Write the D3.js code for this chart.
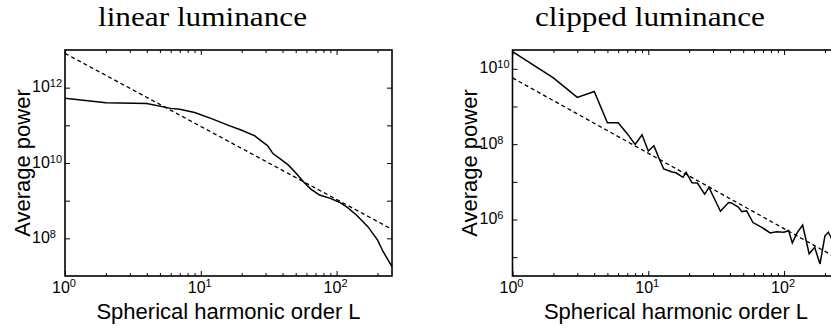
<!DOCTYPE html>
<html><head><meta charset="utf-8">
<script src="https://cdn.jsdelivr.net/npm/d3@7"></script>
<style>body{margin:0;background:#fff}svg{display:block}</style>
</head><body><svg id="c" width="831" height="328"></svg>
<script>
// ---- data ----
const titles = ["linear luminance", "clipped luminance"];
const xLabel = "Spherical harmonic order L";
const yLabel = "Average power";

const orderL_linear = [1, 2, 4, 6, 7, 9, 12, 16, 20, 25, 28, 31, 34, 40, 44, 50, 57, 65, 75, 90, 105, 120, 140, 170, 200, 220, 256];
const power_linear  = [5.25e11, 3.98e11, 3.80e11, 2.82e11, 2.69e11, 2.19e11, 1.51e11, 1.0e11, 7.4e10, 5.25e10, 3.8e10, 2.9e10, 1.78e10, 1.15e10, 8.9e9, 5.5e9, 3.16e9, 2.0e9, 1.41e9, 1.15e9, 9.1e8, 6.6e8, 4.17e8, 2.04e8, 9.1e7, 4.47e7, 1.78e7];
const fitL_linear = [1, 256];
const fitPower_linear = [8.13e12, 1.74e8];

const orderL_clipped = [1, 2, 3, 4, 5, 6, 7, 8, 9, 10, 11, 12, 13, 15, 16, 18, 19, 21, 23, 26, 28, 34, 39, 41, 46, 49, 53, 59, 68, 79, 88, 100, 108, 115, 125, 137, 153, 168, 184, 200, 212, 230, 256];
const power_clipped  = [2.88e10, 5.75e9, 1.74e9, 2.51e9, 3.7e8, 3.7e8, 1.9e8, 9.8e7, 1.78e8, 6.6e7, 9.1e7, 4.2e7, 2.19e7, 1.82e7, 1.74e7, 1.32e7, 1.78e7, 9.5e6, 9.3e6, 4.7e6, 7.1e6, 1.66e6, 2.82e6, 2.75e6, 2.14e6, 1.62e6, 1.70e6, 8.3e5, 6.3e5, 4.4e5, 4.7e5, 4.6e5, 5.1e5, 2.4e5, 4.5e5, 7.1e5, 1.23e5, 1.82e5, 6.6e4, 3.7e5, 4.6e5, 2.5e5, 3.2e5];
const fitL_clipped = [1, 256];
const fitPower_clipped = [5.75e9, 8.7e4];

const xDomain = [1, 256];
const xLabelExps = [0, 1, 2];
const xMajorTicks = [1, 10, 100];
const xMinorTicks = [2,3,4,5,6,7,8,9,20,30,40,50,60,70,80,90,200];

const yDomain_linear = [1e7, 1e13];
const yTicks_linear = [1e8, 1e9, 1e10, 1e11, 1e12];
const yLabelExps_linear = [8, 10, 12];

const yDomain_clipped = [Math.pow(10, 4.5), Math.pow(10, 10.5)];
const yTicks_clipped = [1e5, 1e6, 1e7, 1e8, 1e9, 1e10];
const yLabelExps_clipped = [6, 8, 10];

// ---- layout ----
const panels = [
  {left: 65, title: titles[0], titleX: 98, titleLen: 209, L: orderL_linear, P: power_linear,
   fL: fitL_linear, fP: fitPower_linear, yDomain: yDomain_linear, yTicks: yTicks_linear, yExps: yLabelExps_linear},
  {left: 512.5, title: titles[1], titleX: 535, titleLen: 230, L: orderL_clipped, P: power_clipped,
   fL: fitL_clipped, fP: fitPower_clipped, yDomain: yDomain_clipped, yTicks: yTicks_clipped, yExps: yLabelExps_clipped}
];
const plotTop = 50, plotBottom = 276, plotWidth = 327;
const sans = "'Liberation Sans', Arial, Helvetica, sans-serif";
const svg = d3.select("#c");

panels.forEach(p => {
  const x = d3.scaleLog().domain(xDomain).range([p.left, p.left + plotWidth]);
  const y = d3.scaleLog().domain(p.yDomain).range([plotBottom, plotTop]);
  const g = svg.append("g");

  // title
  g.append("text").attr("x", p.titleX).attr("y", 26)
    .attr("font-family", "'Liberation Serif', 'Times New Roman', serif").attr("font-size", 27)
    .attr("textLength", p.titleLen).attr("lengthAdjust", "spacingAndGlyphs")
    .attr("fill", "#000").text(p.title);

  // ticks (inward) via d3 axes
  const tickStyle = sel => { sel.select(".domain").remove(); sel.selectAll("line").attr("stroke", "#000").attr("stroke-width", 1); };
  g.append("g").attr("transform", `translate(0,${plotBottom})`)
    .call(d3.axisBottom(x).tickValues(xMajorTicks).tickSize(-5).tickFormat("")).call(tickStyle);
  g.append("g").attr("transform", `translate(0,${plotBottom})`)
    .call(d3.axisBottom(x).tickValues(xMinorTicks).tickSize(-3).tickFormat("")).call(tickStyle);
  g.append("g").attr("transform", `translate(0,${plotTop})`)
    .call(d3.axisTop(x).tickValues(xMajorTicks).tickSize(-5).tickFormat("")).call(tickStyle);
  g.append("g").attr("transform", `translate(0,${plotTop})`)
    .call(d3.axisTop(x).tickValues(xMinorTicks).tickSize(-3).tickFormat("")).call(tickStyle);
  g.append("g").attr("transform", `translate(${p.left},0)`)
    .call(d3.axisLeft(y).tickValues(p.yTicks).tickSize(-5).tickFormat("")).call(tickStyle);
  g.append("g").attr("transform", `translate(${p.left + plotWidth},0)`)
    .call(d3.axisRight(y).tickValues(p.yTicks).tickSize(-5).tickFormat("")).call(tickStyle);

  // x tick labels
  xLabelExps.forEach(e => {
    const t = g.append("text").attr("x", x(Math.pow(10, e)) - 1).attr("y", plotBottom + 17)
      .attr("text-anchor", "middle").attr("font-family", sans).attr("font-size", 16).attr("fill", "#000");
    t.append("tspan").text("10");
    t.append("tspan").attr("dy", -6).attr("font-size", 11).text(e);
  });
  // y tick labels
  p.yExps.forEach(e => {
    const t = g.append("text").attr("x", p.left - 33).attr("y", y(Math.pow(10, e)) + 4.5)
      .attr("font-family", sans).attr("font-size", 16).attr("fill", "#000");
    t.append("tspan").text("10");
    t.append("tspan").attr("dy", -5).attr("font-size", 11).text(e);
  });

  // axis labels
  g.append("text").attr("x", p.left + plotWidth / 2).attr("y", 319).attr("text-anchor", "middle")
    .attr("font-family", sans).attr("font-size", 22).attr("fill", "#000").text(xLabel);
  g.append("text").attr("transform", `translate(${p.left - 35.5},${(plotTop + plotBottom) / 2}) rotate(-90)`)
    .attr("text-anchor", "middle").attr("font-family", sans).attr("font-size", 22).attr("fill", "#000").text(yLabel);

  // fit (dashed) and data (solid)
  const line = d3.line().x(d => x(d[0])).y(d => y(d[1]));
  g.append("path").datum(p.fL.map((l, i) => [l, p.fP[i]])).attr("d", line)
    .attr("fill", "none").attr("stroke", "#000").attr("stroke-width", 1.3).attr("stroke-dasharray", "4,3");
  g.append("path").datum(p.L.map((l, i) => [l, p.P[i]])).attr("d", line)
    .attr("fill", "none").attr("stroke", "#000").attr("stroke-width", 1.5).attr("stroke-linejoin", "miter");

  // box
  g.append("rect").attr("x", p.left).attr("y", plotTop).attr("width", plotWidth).attr("height", plotBottom - plotTop)
    .attr("fill", "none").attr("stroke", "#000").attr("stroke-width", 1.6);
});
</script></body></html>
